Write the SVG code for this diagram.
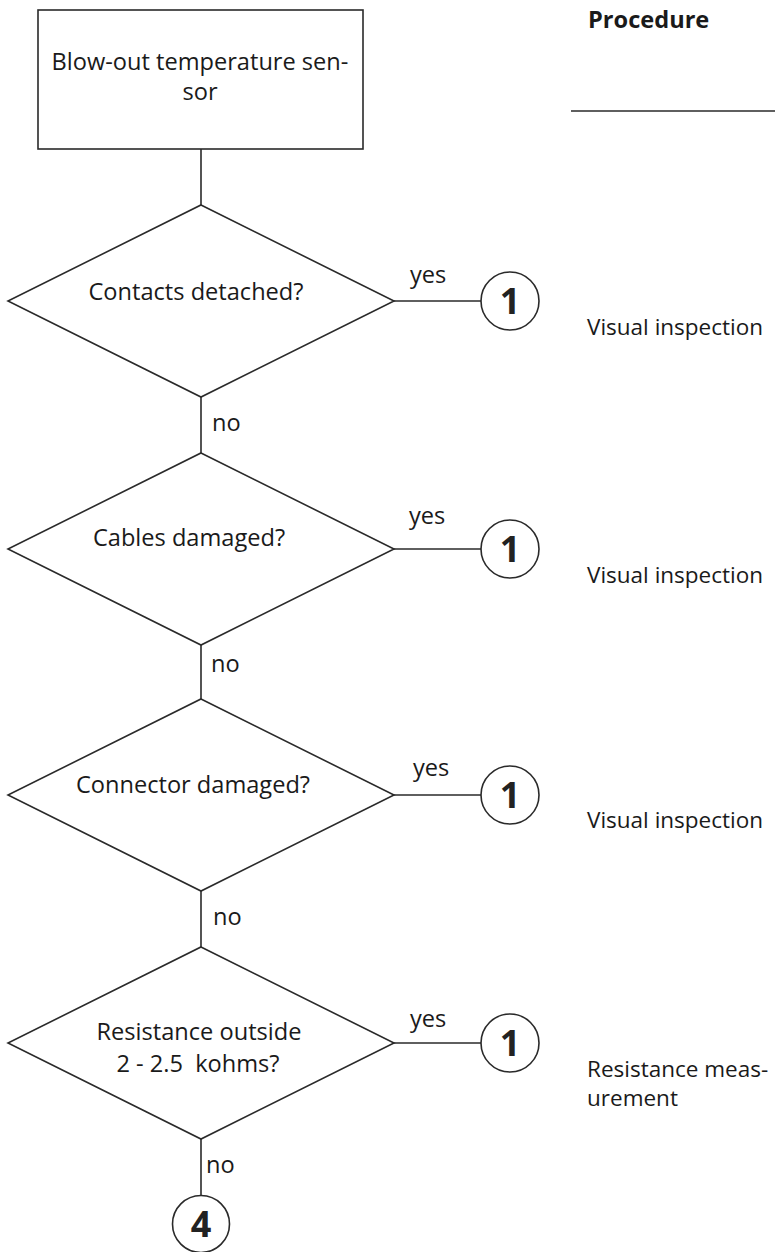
<svg xmlns="http://www.w3.org/2000/svg" width="775" height="1252" viewBox="0 0 775 1252">
<style>
  .shape { fill: #ffffff; stroke: #2a2a2a; stroke-width: 1.6; }
  .line { fill: none; stroke: #2a2a2a; stroke-width: 1.6; }
  text { font-family: "Open Sans", "Noto Sans", "DejaVu Sans", sans-serif; font-size: 23.6px; fill: #1a1a1a; }
  .c { text-anchor: middle; }
  .num { font-weight: bold; font-size: 36px; text-anchor: middle; fill: #222; }
  .head { font-weight: bold; }
  .proc { font-size: 22.5px; }
</style>
<rect width="775" height="1252" fill="#ffffff"/>

<g id="connectors">
  <line class="line" x1="201" y1="149" x2="201" y2="205"/>
  <line class="line" x1="201" y1="397" x2="201" y2="453"/>
  <line class="line" x1="201" y1="645" x2="201" y2="699"/>
  <line class="line" x1="201" y1="891" x2="201" y2="947"/>
  <line class="line" x1="201" y1="1139" x2="201" y2="1196"/>
  <line class="line" x1="394" y1="301" x2="481" y2="301"/>
  <line class="line" x1="394" y1="549" x2="481" y2="549"/>
  <line class="line" x1="394" y1="795" x2="481" y2="795"/>
  <line class="line" x1="394" y1="1043" x2="481" y2="1043"/>
  <text x="410" y="283">yes</text>
  <text x="409" y="524">yes</text>
  <text x="413" y="776">yes</text>
  <text x="410" y="1027">yes</text>
  <text x="212" y="431">no</text>
  <text x="211" y="672">no</text>
  <text x="213" y="925">no</text>
  <text x="206" y="1173">no</text>
</g>

<g id="start">
  <rect class="shape" x="38" y="10" width="325" height="139"/>
  <text class="c" x="200" y="70">Blow-out temperature sen-</text>
  <text class="c" x="200" y="100">sor</text>
</g>

<g id="d1">
  <polygon class="shape" points="201,205 394,301 201,397 8,301"/>
  <text class="c" x="196" y="300">Contacts detached?</text>
</g>
<g id="d2">
  <polygon class="shape" points="201,453 394,549 201,645 8,549"/>
  <text class="c" x="189" y="546">Cables damaged?</text>
</g>
<g id="d3">
  <polygon class="shape" points="201,699 394,795 201,891 8,795"/>
  <text class="c" x="193" y="793">Connector damaged?</text>
</g>
<g id="d4">
  <polygon class="shape" points="201,947 394,1043 201,1139 8,1043"/>
  <text class="c" x="199" y="1040">Resistance outside</text>
  <text class="c" x="198" y="1072" xml:space="preserve">2 - 2.5  kohms?</text>
</g>

<g id="c1a">
  <circle class="shape" cx="510" cy="301" r="29"/>
  <text class="num" x="510" y="314">1</text>
</g>
<g id="c1b">
  <circle class="shape" cx="510" cy="549" r="29"/>
  <text class="num" x="510" y="562">1</text>
</g>
<g id="c1c">
  <circle class="shape" cx="510" cy="795" r="29"/>
  <text class="num" x="510" y="808">1</text>
</g>
<g id="c1d">
  <circle class="shape" cx="510" cy="1043" r="29"/>
  <text class="num" x="510" y="1056">1</text>
</g>
<g id="c4">
  <circle class="shape" cx="201" cy="1224" r="28.5"/>
  <text class="num" x="201" y="1237">4</text>
</g>

<g id="procedure">
  <text class="head" x="588" y="28">Procedure</text>
  <line class="line" x1="571" y1="111" x2="775" y2="111"/>
  <text class="proc" x="587" y="335">Visual inspection</text>
  <text class="proc" x="587" y="583">Visual inspection</text>
  <text class="proc" x="587" y="828">Visual inspection</text>
  <text class="proc" x="587" y="1077">Resistance meas-</text>
  <text class="proc" x="587" y="1106">urement</text>
</g>
</svg>
